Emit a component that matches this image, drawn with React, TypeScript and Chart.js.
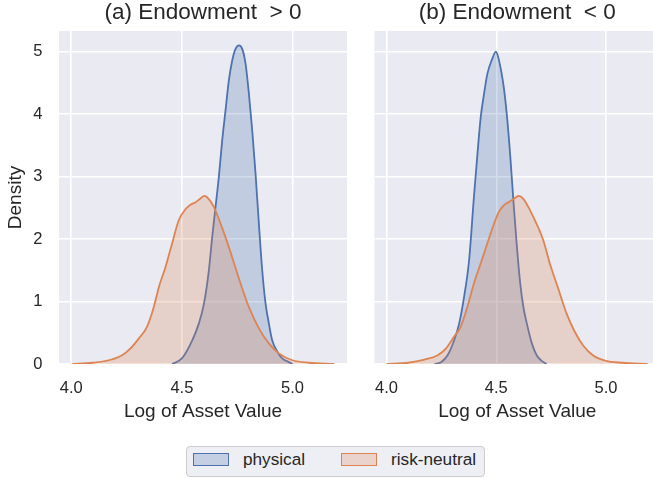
import React, { useEffect, useRef } from 'react';
import { Chart, registerables } from 'chart.js';

Chart.register(...registerables);

const FONT = "'Liberation Sans', Arial, sans-serif";
const TEXT = '#262626';
const BLUE = '#4c72b0';
const ORANGE = '#dd8452';
const BLUE_FILL = 'rgba(76,114,176,0.25)';
const ORANGE_FILL = 'rgba(221,132,82,0.25)';

const seriesNames = ['physical', 'risk-neutral'];
const panelTitles = ['(a) Endowment  > 0', '(b) Endowment  < 0'];
const xAxisLabel = 'Log of Asset Value';
const yAxisLabel = 'Density';
const xTicks = [4.0, 4.5, 5.0];
const yTicks = [0, 1, 2, 3, 4, 5];
const X_MIN = 3.945;
const X_MAX = 5.246;
const Y_MAX = 5.33;

// panel (a): Endowment > 0
const aPhysicalX = [4.456, 4.5, 4.547, 4.577, 4.6, 4.622, 4.637, 4.652, 4.667, 4.682, 4.697, 4.712, 4.727, 4.742, 4.758, 4.773, 4.788, 4.803, 4.818, 4.833, 4.848, 4.863, 4.878, 4.893, 4.908, 4.931, 4.953, 4.983, 5.0];
const aPhysicalY = [0, 0.09, 0.38, 0.65, 0.97, 1.5, 2.03, 2.51, 2.99, 3.57, 4.05, 4.53, 4.85, 5.04, 5.1, 5.04, 4.8, 4.32, 3.73, 3.04, 2.24, 1.5, 0.97, 0.65, 0.38, 0.2, 0.09, 0.03, 0];
const aRiskX = [4.005, 4.095, 4.17, 4.23, 4.268, 4.306, 4.343, 4.373, 4.396, 4.426, 4.456, 4.486, 4.517, 4.539, 4.562, 4.584, 4.602, 4.622, 4.645, 4.667, 4.697, 4.727, 4.765, 4.803, 4.848, 4.893, 4.938, 5.0, 5.074, 5.188];
const aRiskY = [0, 0.02, 0.06, 0.14, 0.25, 0.41, 0.6, 0.91, 1.23, 1.55, 1.93, 2.3, 2.48, 2.55, 2.59, 2.65, 2.69, 2.64, 2.51, 2.32, 2.03, 1.71, 1.29, 0.91, 0.57, 0.33, 0.17, 0.06, 0.02, 0];

// panel (b): Endowment < 0
const bPhysicalX = [4.218, 4.248, 4.278, 4.308, 4.331, 4.353, 4.376, 4.398, 4.414, 4.429, 4.444, 4.459, 4.481, 4.498, 4.511, 4.534, 4.549, 4.564, 4.579, 4.594, 4.609, 4.624, 4.639, 4.662, 4.684, 4.707, 4.729];
const bPhysicalY = [0, 0.03, 0.14, 0.38, 0.65, 1.07, 1.66, 2.67, 3.36, 3.95, 4.32, 4.64, 4.88, 5.0, 4.88, 4.43, 3.95, 3.31, 2.56, 1.87, 1.29, 0.9, 0.65, 0.33, 0.14, 0.05, 0];
const bRiskX = [4.0, 4.098, 4.173, 4.233, 4.271, 4.308, 4.338, 4.368, 4.398, 4.429, 4.459, 4.489, 4.511, 4.534, 4.556, 4.579, 4.602, 4.624, 4.654, 4.684, 4.714, 4.744, 4.782, 4.82, 4.857, 4.895, 4.94, 5.0, 5.075, 5.19];
const bRiskY = [0, 0.02, 0.07, 0.14, 0.25, 0.44, 0.6, 0.91, 1.29, 1.61, 1.93, 2.24, 2.43, 2.54, 2.59, 2.64, 2.69, 2.64, 2.46, 2.24, 1.98, 1.61, 1.21, 0.81, 0.52, 0.3, 0.14, 0.05, 0.02, 0];

const bgPlugin = {
  id: 'panelBg',
  beforeDraw(chart: any) {
    const { ctx, chartArea: a } = chart;
    ctx.save();
    ctx.fillStyle = '#eaeaf2';
    ctx.fillRect(a.left, a.top, a.right - a.left, a.bottom - a.top);
    ctx.restore();
  },
};

function toPoints(xs: number[], ys: number[]) {
  return xs.map((x, i) => ({ x, y: ys[i] }));
}

function buildConfig(panel: number, physX: number[], physY: number[], rnX: number[], rnY: number[]): any {
  const isLeft = panel === 0;
  return {
    type: 'line',
    data: {
      datasets: [
        {
          label: seriesNames[0],
          data: toPoints(physX, physY),
          borderColor: BLUE,
          backgroundColor: BLUE_FILL,
          fill: 'origin',
          borderWidth: 1.8,
          pointRadius: 0,
          cubicInterpolationMode: 'monotone',
          order: 1,
        },
        {
          label: seriesNames[1],
          data: toPoints(rnX, rnY),
          borderColor: ORANGE,
          backgroundColor: ORANGE_FILL,
          fill: 'origin',
          borderWidth: 1.8,
          pointRadius: 0,
          cubicInterpolationMode: 'monotone',
          order: 0,
        },
      ],
    },
    options: {
      responsive: false,
      animation: false,
      events: [],
      layout: { padding: 0 },
      plugins: {
        legend: { display: false },
        tooltip: { enabled: false },
        title: {
          display: true,
          text: panelTitles[panel],
          fullSize: false,
          color: TEXT,
          font: { family: FONT, size: 22.5, weight: 'normal', lineHeight: 1.15 },
          padding: { top: 0, bottom: 5.1 },
        },
      },
      scales: {
        x: {
          type: 'linear',
          min: X_MIN,
          max: X_MAX,
          afterBuildTicks: (s: any) => {
            s.ticks = xTicks.map((v) => ({ value: v }));
          },
          afterFit: (s: any) => {
            s.height = 66;
          },
          grid: { color: '#ffffff', lineWidth: 1.6, drawTicks: false },
          border: { display: false },
          ticks: {
            color: TEXT,
            font: { family: FONT, size: 16.5 },
            padding: 14.5,
            maxRotation: 0,
            autoSkip: false,
            callback: (v: any) => Number(v).toFixed(1),
          },
          title: {
            display: true,
            text: xAxisLabel,
            color: TEXT,
            font: { family: FONT, size: 19 },
            padding: { top: 0, bottom: 6.9 },
          },
        },
        y: {
          type: 'linear',
          min: 0,
          max: Y_MAX,
          afterBuildTicks: (s: any) => {
            s.ticks = yTicks.map((v) => ({ value: v }));
          },
          afterFit: (s: any) => {
            s.width = isLeft ? 59 : 12;
          },
          grid: { color: '#ffffff', lineWidth: 1.6, drawTicks: false },
          border: { display: false },
          ticks: {
            display: isLeft,
            color: TEXT,
            font: { family: FONT, size: 16.5 },
            padding: 16.5,
            callback: (v: any) => String(v),
          },
          title: {
            display: isLeft,
            text: yAxisLabel,
            color: TEXT,
            font: { family: FONT, size: 19 },
            padding: { top: 3.9, bottom: 0 },
          },
        },
      },
    },
    plugins: [bgPlugin],
  };
}

export default function App() {
  const leftRef = useRef<HTMLCanvasElement>(null);
  const rightRef = useRef<HTMLCanvasElement>(null);

  useEffect(() => {
    const c1 = new Chart(leftRef.current as HTMLCanvasElement, buildConfig(0, aPhysicalX, aPhysicalY, aRiskX, aRiskY));
    const c2 = new Chart(rightRef.current as HTMLCanvasElement, buildConfig(1, bPhysicalX, bPhysicalY, bRiskX, bRiskY));
    return () => {
      c1.destroy();
      c2.destroy();
    };
  }, []);

  const legendText: React.CSSProperties = {
    position: 'absolute',
    top: 451,
    fontFamily: FONT,
    fontSize: 17.2,
    lineHeight: '17px',
    color: TEXT,
    whiteSpace: 'nowrap',
  };
  const patch = (left: number, color: string, fillColor: string): React.CSSProperties => ({
    position: 'absolute',
    left,
    top: 453,
    width: 36,
    height: 13,
    boxSizing: 'border-box',
    border: `1.5px solid ${color}`,
    background: fillColor,
  });

  return (
    <div style={{ position: 'absolute', left: 0, top: 0, width: 653, height: 478, overflow: 'hidden', background: '#ffffff' }}>
      <canvas ref={leftRef} width={347} height={430} style={{ position: 'absolute', left: 0, top: 0, display: 'block' }} />
      <canvas ref={rightRef} width={300} height={430} style={{ position: 'absolute', left: 360, top: 0, display: 'block' }} />
      <div
        style={{
          position: 'absolute',
          left: 186,
          top: 446,
          width: 299,
          height: 31,
          boxSizing: 'border-box',
          border: '1px solid #cccccc',
          borderRadius: 4,
          background: 'rgb(238,238,245)',
        }}
      />
      <div style={patch(193, BLUE, BLUE_FILL)} />
      <div style={{ ...legendText, left: 243 }}>{seriesNames[0]}</div>
      <div style={patch(341, ORANGE, ORANGE_FILL)} />
      <div style={{ ...legendText, left: 391 }}>{seriesNames[1]}</div>
    </div>
  );
}
